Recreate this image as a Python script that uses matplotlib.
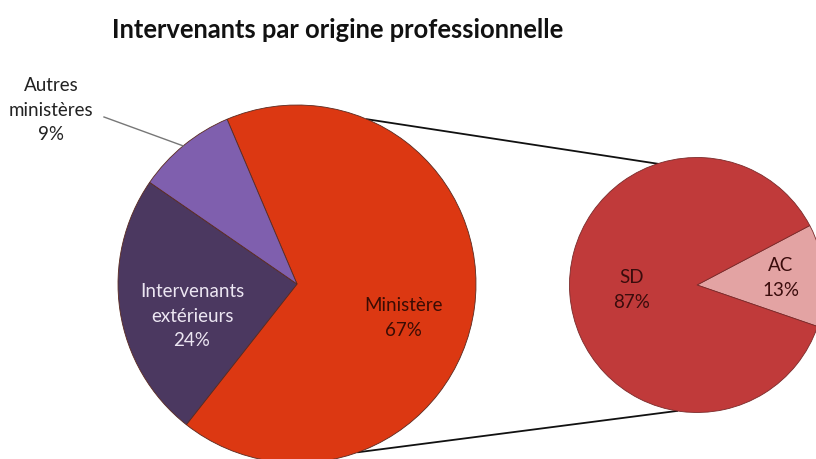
import numpy as np
import matplotlib

matplotlib.use("Agg")
import matplotlib.pyplot as plt  # noqa: E402

plt.rcParams["font.family"] = ["Lato", "DejaVu Sans"]

# main pie, drawn clockwise from the top-left split
main_labels = ["Ministère", "Intervenants\nextérieurs", "Autres\nministères"]
main_values = [67, 24, 9]
main_colors = ["#DC3812", "#4B3860", "#7F5FAE"]

# second pie, detail of "Ministère"
sub_labels = ["AC", "SD"]
sub_values = [13, 87]
sub_colors = ["#E3A3A3", "#C03A3A"]

TITLE = "Intervenants par origine professionnelle"

W, H = 816, 459
main_center = np.array([297.0, H - 284.0])
main_radius = 179.0
sub_center = np.array([697.0, H - 285.0])
sub_radius = 127.5


def edge_point(center, radius, angle_deg):
    a = np.deg2rad(angle_deg)
    return center + radius * np.array([np.cos(a), np.sin(a)])


fig = plt.figure(figsize=(W / 100, H / 100), dpi=100)
ax = fig.add_axes([0, 0, 1, 1])

# connector lines sit behind the pies
for a_main, a_sub in [(67, 108), (-70, -99)]:
    p0 = edge_point(main_center, main_radius, a_main)
    p1 = edge_point(sub_center, sub_radius, a_sub)
    ax.plot([p0[0], p1[0]], [p0[1], p1[1]], color="#111111", linewidth=1.3, zorder=1)

main_wedges, _ = ax.pie(
    main_values,
    colors=main_colors,
    startangle=113,
    counterclock=False,
    center=main_center,
    radius=main_radius,
    wedgeprops=dict(edgecolor="#5a2a20", linewidth=0.6),
    frame=True,
)
sub_wedges, _ = ax.pie(
    sub_values,
    colors=sub_colors,
    startangle=-19,
    center=sub_center,
    radius=sub_radius,
    wedgeprops=dict(edgecolor="#7a2a2a", linewidth=0.6),
    frame=True,
)
for w in main_wedges + sub_wedges:
    w.set_zorder(2)

ax.set_xlim(0, W)
ax.set_ylim(0, H)
ax.set_aspect("equal")
ax.axis("off")

txt = dict(ha="center", va="center", fontsize=13.5, linespacing=1.55, zorder=5)

# Ministère
ax.text(403, H - 318, f"{main_labels[0]}\n{main_values[0]}%", color="#3a0c04", **txt)
# Intervenants extérieurs
ax.text(192, H - 316, f"{main_labels[1]}\n{main_values[1]}%", color="#ECE6F2", **txt)
# Autres ministères, outside with leader line
ax.text(51, H - 110, f"{main_labels[2]}\n{main_values[2]}%", color="#222222", **txt)
tip = edge_point(main_center, main_radius, 129.5)
ax.plot([104, tip[0]], [H - 117, tip[1]], color="#777777", linewidth=1.0, zorder=4)

ax.text(632, H - 290, f"{sub_labels[1]}\n{sub_values[1]}%", color="#3a0c0c", **txt)
ax.text(781, H - 278, f"{sub_labels[0]}\n{sub_values[0]}%", color="#3a0c0c", **txt)

fig.text(338 / W, 1 - 30 / H, TITLE, ha="center", va="center", fontsize=18.4, fontweight="bold", color="#111111")

fig.savefig("out.png", dpi=100)
